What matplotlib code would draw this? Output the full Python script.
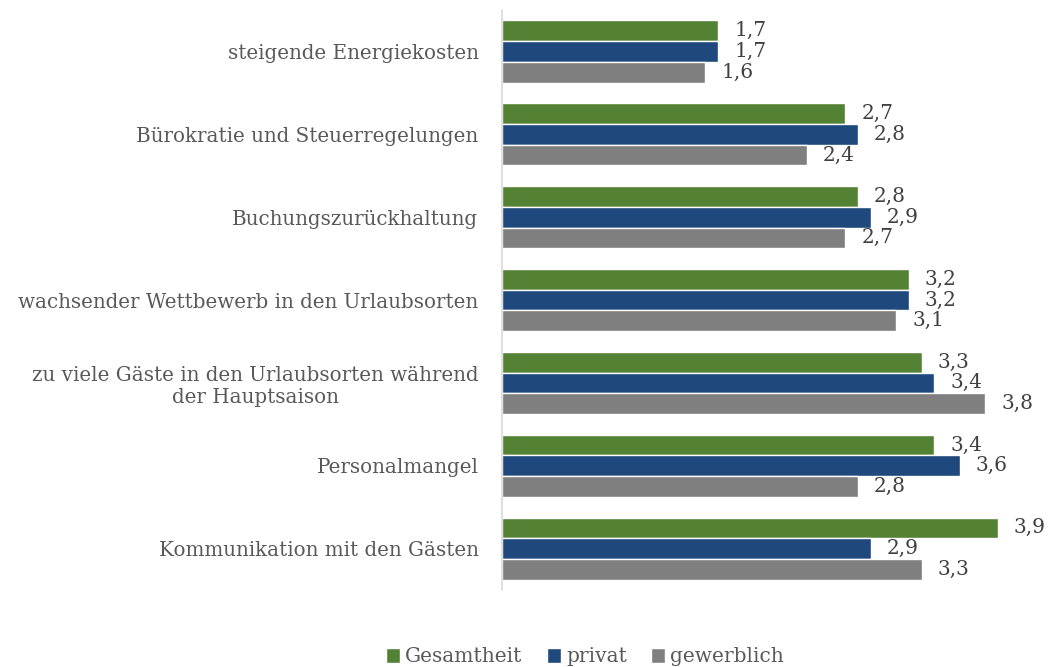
import matplotlib
matplotlib.use("Agg")
import matplotlib.pyplot as plt
import numpy as np

categories = [
    "steigende Energiekosten",
    "Bürokratie und Steuerregelungen",
    "Buchungszurückhaltung",
    "wachsender Wettbewerb in den Urlaubsorten",
    "zu viele Gäste in den Urlaubsorten während\nder Hauptsaison",
    "Personalmangel",
    "Kommunikation mit den Gästen",
]
gesamtheit = [1.7, 2.7, 2.8, 3.2, 3.3, 3.4, 3.9]
privat = [1.7, 2.8, 2.9, 3.2, 3.4, 3.6, 2.9]
gewerblich = [1.6, 2.4, 2.7, 3.1, 3.8, 2.8, 3.3]
series_names = ["Gesamtheit", "privat", "gewerblich"]
colors = ["#548235", "#1F497D", "#7F7F7F"]

font = "DejaVu Serif"
plt.rcParams["font.family"] = [font, "DejaVu Sans"]

fig = plt.figure(figsize=(10.48, 6.67), dpi=100)
ax = fig.add_axes([502 / 1048, 1 - 590 / 667, (1036 - 502) / 1048, 580 / 667])

n = len(categories)
y = np.arange(n)
h = 0.25
offsets = [-h, 0, h]
for vals, off, c, name in zip([gesamtheit, privat, gewerblich], offsets, colors, series_names):
    bars = ax.barh(y + off, vals, height=h, color=c, edgecolor="white", linewidth=1.0, label=name)
    for b, v in zip(bars, vals):
        ax.annotate(f"{v:.1f}".replace(".", ","), (b.get_width(), b.get_y() + b.get_height() / 2),
                    xytext=(16, 0), textcoords="offset pixels",
                    va="center", ha="left", fontsize=14.5, color="#404040")

ax.set_ylim(n - 0.5, -0.5)
ax.set_xlim(0, 4.2)
ax.set_yticks(y)
ax.set_yticklabels(categories, fontsize=14.3, color="#595959", multialignment="center")
ax.tick_params(axis="y", length=0, pad=17)
ax.set_xticks([])
for s in ["top", "right", "bottom"]:
    ax.spines[s].set_visible(False)
ax.spines["left"].set_color("#D9D9D9")
ax.spines["left"].set_linewidth(1.2)

handles, labels = ax.get_legend_handles_labels()
leg = fig.legend(handles, labels, loc="center", bbox_to_anchor=(585 / 1048, 1 - 657 / 667), ncol=3,
                 frameon=False, fontsize=14.5, handlelength=0.7, handleheight=0.7, handletextpad=0.25,
                 columnspacing=1.2, labelcolor="#595959")

fig.savefig("out.png", dpi=100)
